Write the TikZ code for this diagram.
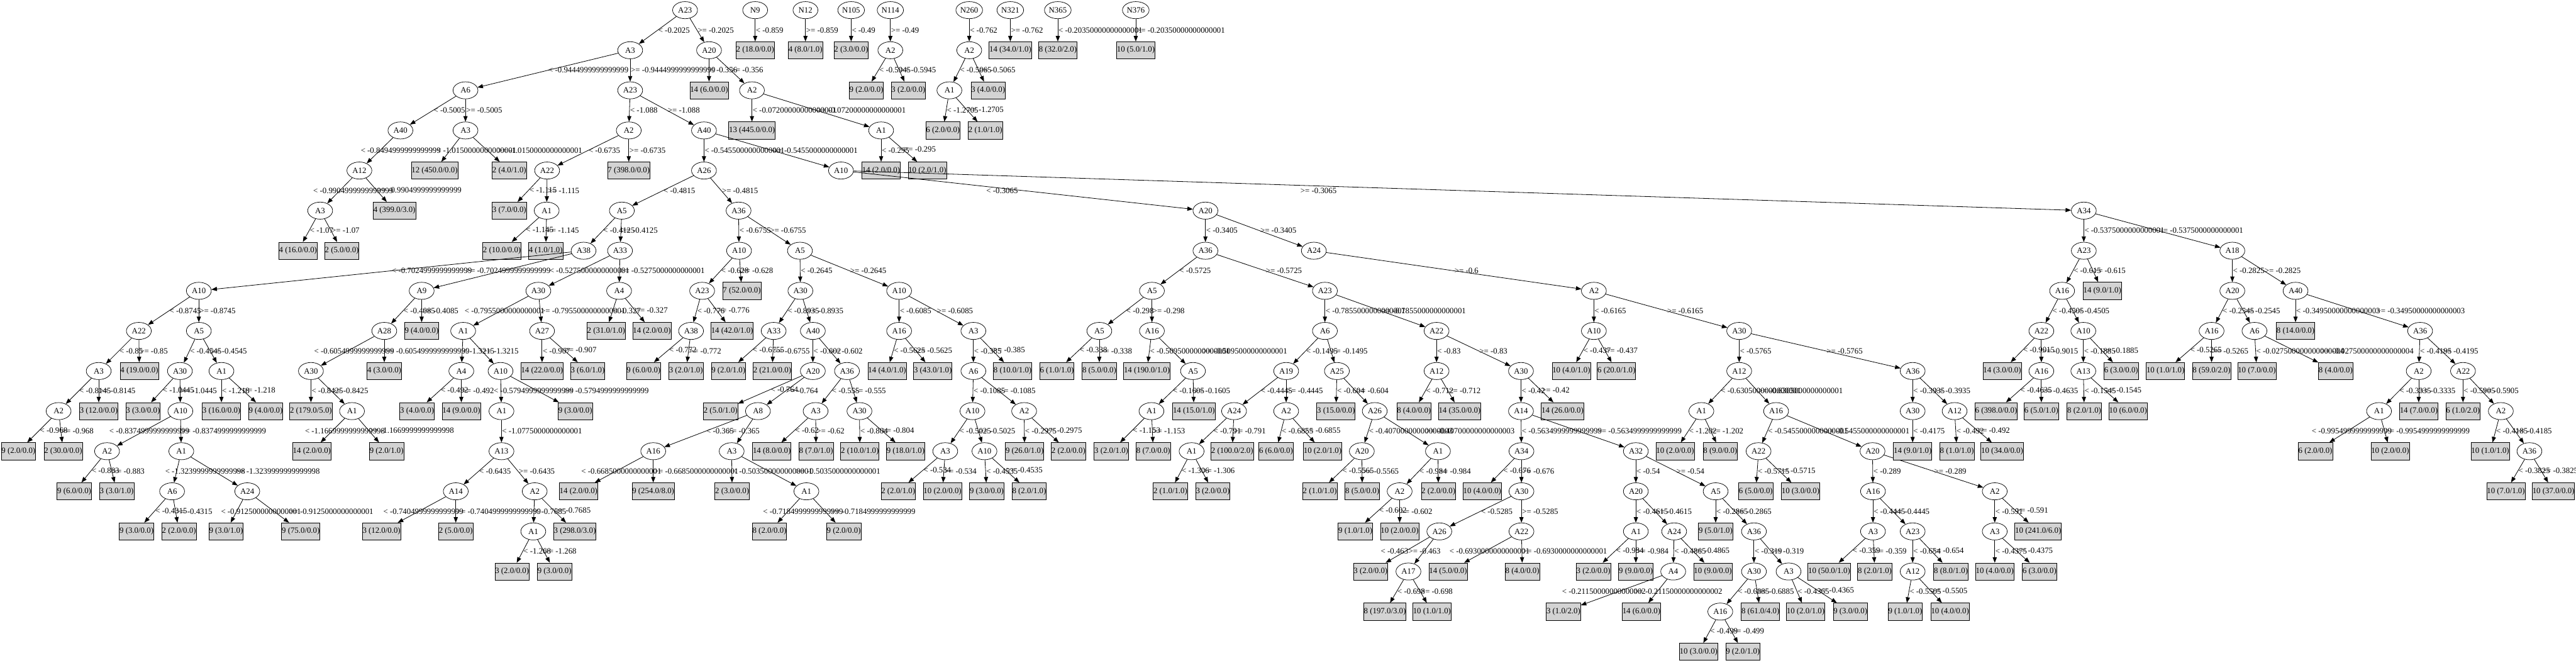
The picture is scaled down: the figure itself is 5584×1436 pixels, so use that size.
\documentclass[tikz,border=0pt]{standalone}
\usepackage{fontspec}
\setmainfont{Liberation Serif}
\usetikzlibrary{shapes.geometric,arrows.meta}
\definecolor{leafgray}{HTML}{D3D3D3}
\newcommand\gvfont{\fontsize{17.5}{20}\selectfont}
\tikzset{
  inode/.style={ellipse,draw,line width=1pt,minimum width=54pt,minimum height=37pt,inner sep=1pt,font=\gvfont},
  leaf/.style={rectangle,draw,line width=1pt,fill=leafgray,minimum height=37pt,inner xsep=0.5pt,inner ysep=0pt,font=\gvfont},
  conn/.style={line width=1.1pt,-{Triangle[length=12pt,width=9pt]}},
  lbl/.style={anchor=west,inner sep=1pt,font=\gvfont}
}
\newcommand\tnI[4]{\node[inode] (#1) at (#2,{22+86.9*#3}) {#4};}
\newcommand\tnL[4]{\node[leaf] (#1) at (#2,{22+86.9*#3}) {#4};}
\newcommand\tnE[3]{\draw[conn] (#1) -- node[lbl]{#3} (#2);}
\newcommand\tnX[5]{\draw[conn] (#1) -- (#2); \node[lbl] at (#4,{22+86.9*(#5+0.5)}) {#3};}
\begin{document}
\begin{tikzpicture}[x=1pt,y=-1pt]
\useasboundingbox (0,0) rectangle (5584,1436);
% ---- small separate trees
\tnI{s1}{1637}{0}{N9}
\tnL{s1a}{1637}{1}{2 (18.0/0.0)}
\tnE{s1}{s1a}{< -0.859}
\tnI{s2}{1746}{0}{N12}
\tnL{s2a}{1746}{1}{4 (8.0/1.0)}
\tnE{s2}{s2a}{>= -0.859}
\tnI{s3}{1845}{0}{N105}
\tnL{s3a}{1845}{1}{2 (3.0/0.0)}
\tnE{s3}{s3a}{< -0.49}
\tnI{s4}{1930}{0}{N114}
\tnI{s4a}{1930}{1}{A2}
\tnE{s4}{s4a}{>= -0.49}
\tnL{s4b}{1878}{2}{9 (2.0/0.0)}
\tnE{s4a}{s4b}{< -0.5945}
\tnL{s4c}{1969}{2}{3 (2.0/0.0)}
\tnE{s4a}{s4c}{>= -0.5945}
\tnI{s5}{2101}{0}{N260}
\tnI{s5a}{2101}{1}{A2}
\tnE{s5}{s5a}{< -0.762}
\tnI{s5b}{2058}{2}{A1}
\tnE{s5a}{s5b}{< -0.5065}
\tnL{s5c}{2142}{2}{3 (4.0/0.0)}
\tnE{s5a}{s5c}{>= -0.5065}
\tnL{s5d}{2044}{3}{6 (2.0/0.0)}
\tnE{s5b}{s5d}{< -1.2705}
\tnL{s5e}{2136}{3}{2 (1.0/1.0)}
\tnE{s5b}{s5e}{>= -1.2705}
\tnI{s6}{2190}{0}{N321}
\tnL{s6a}{2190}{1}{14 (34.0/1.0)}
\tnE{s6}{s6a}{>= -0.762}
\tnI{s7}{2293}{0}{N365}
\tnL{s7a}{2293}{1}{8 (32.0/2.0)}
\tnE{s7}{s7a}{< -0.20350000000000001}
\tnI{s8}{2462}{0}{N376}
\tnL{s8a}{2462}{1}{10 (5.0/1.0)}
\tnE{s8}{s8a}{>= -0.20350000000000001}
% ---- main tree
\tnI{m0}{1485}{0}{A23}
\tnI{m1}{1366}{1}{A3}
\tnE{m0}{m1}{< -0.2025}
\tnI{m2}{1537}{1}{A20}
\tnE{m0}{m2}{>= -0.2025}
\tnL{m3}{1537}{2}{14 (6.0/0.0)}
\tnE{m2}{m3}{< -0.356}
\tnI{m4}{1630}{2}{A2}
\tnE{m2}{m4}{>= -0.356}
\tnL{m5}{1630}{3}{13 (445.0/0.0)}
\tnE{m4}{m5}{< -0.07200000000000001}
\tnI{m6}{1910}{3}{A1}
\tnE{m4}{m6}{>= -0.07200000000000001}
\tnL{m7}{1910}{4}{14 (2.0/0.0)}
\tnE{m6}{m7}{< -0.295}
\tnL{m8}{2010}{4}{10 (2.0/1.0)}
\tnE{m6}{m8}{>= -0.295}
\tnI{m9}{1009}{2}{A6}
\tnE{m1}{m9}{< -0.9444999999999999}
\tnI{m10}{1366}{2}{A23}
\tnE{m1}{m10}{>= -0.9444999999999999}
\tnI{m11}{868}{3}{A40}
\tnE{m9}{m11}{< -0.5005}
\tnI{m12}{1009}{3}{A3}
\tnE{m9}{m12}{>= -0.5005}
\tnI{m13}{779}{4}{A12}
\tnX{m11}{m13}{< -0.8494999999999999}{781}{3}
\tnL{m14}{942}{4}{12 (450.0/0.0)}
\tnX{m12}{m14}{< -1.0150000000000001}{945}{3}
\tnL{m15}{1104}{4}{2 (4.0/1.0)}
\tnX{m12}{m15}{>= -1.0150000000000001}{1078}{3}
\tnI{m16}{694}{5}{A3}
\tnX{m13}{m16}{< -0.9904999999999999}{678}{4}
\tnL{m17}{855}{5}{4 (399.0/3.0)}
\tnE{m13}{m17}{>= -0.9904999999999999}
\tnL{m18}{646}{6}{4 (16.0/0.0)}
\tnE{m16}{m18}{< -1.07}
\tnL{m19}{741}{6}{2 (5.0/0.0)}
\tnE{m16}{m19}{>= -1.07}
\tnI{m20}{1363}{3}{A2}
\tnE{m10}{m20}{< -1.088}
\tnI{m21}{1526}{3}{A40}
\tnE{m10}{m21}{>= -1.088}
\tnI{m22}{1186}{4}{A22}
\tnE{m20}{m22}{< -0.6735}
\tnL{m23}{1363}{4}{7 (398.0/0.0)}
\tnE{m20}{m23}{>= -0.6735}
\tnL{m24}{1104}{5}{3 (7.0/0.0)}
\tnE{m22}{m24}{< -1.115}
\tnI{m25}{1185}{5}{A1}
\tnE{m22}{m25}{>= -1.115}
\tnL{m26}{1088}{6}{2 (10.0/0.0)}
\tnE{m25}{m26}{< -1.145}
\tnL{m27}{1183}{6}{4 (1.0/1.0)}
\tnE{m25}{m27}{>= -1.145}
\tnI{m28}{1526}{4}{A26}
\tnE{m21}{m28}{< -0.5455000000000001}
\tnI{m29}{1823}{4}{A10}
\tnE{m21}{m29}{>= -0.5455000000000001}
\tnI{m30}{1348}{5}{A5}
\tnE{m28}{m30}{< -0.4815}
\tnI{m31}{1601}{5}{A36}
\tnE{m28}{m31}{>= -0.4815}
\tnI{m32}{1265}{6}{A38}
\tnE{m30}{m32}{< -0.4125}
\tnI{m33}{1344}{6}{A33}
\tnE{m30}{m33}{>= -0.4125}
\tnI{m34}{431}{7}{A10}
\tnE{m32}{m34}{< -0.7024999999999999}
\tnI{m35}{914}{7}{A9}
\tnX{m32}{m35}{>= -0.7024999999999999}{1009}{6}
\tnI{m36}{1167}{7}{A30}
\tnX{m33}{m36}{< -0.5275000000000001}{1190}{6}
\tnI{m37}{1342}{7}{A4}
\tnE{m33}{m37}{>= -0.5275000000000001}
\tnL{m38}{1314}{8}{2 (31.0/1.0)}
\tnE{m37}{m38}{< -0.327}
\tnL{m39}{1413}{8}{14 (2.0/0.0)}
\tnE{m37}{m39}{>= -0.327}
\tnI{m40}{1004}{8}{A1}
\tnX{m36}{m40}{< -0.7955000000000001}{1006}{7}
\tnI{m41}{1175}{8}{A27}
\tnE{m36}{m41}{>= -0.7955000000000001}
\tnI{m42}{1000}{9}{A4}
\tnE{m40}{m42}{< -1.3215}
\tnI{m43}{1085}{9}{A10}
\tnE{m40}{m43}{>= -1.3215}
\tnL{m44}{904}{10}{3 (4.0/0.0)}
\tnE{m42}{m44}{< -0.492}
\tnL{m45}{1000}{10}{14 (9.0/0.0)}
\tnE{m42}{m45}{>= -0.492}
\tnI{m46}{1087}{10}{A1}
\tnX{m43}{m46}{< -0.5794999999999999}{1069}{9}
\tnL{m47}{1247}{10}{9 (3.0/0.0)}
\tnX{m43}{m47}{>= -0.5794999999999999}{1222}{9}
\tnI{m48}{1087}{11}{A13}
\tnE{m46}{m48}{< -1.0775000000000001}
\tnI{m49}{988}{12}{A14}
\tnE{m48}{m49}{< -0.6435}
\tnI{m50}{1159}{12}{A2}
\tnE{m48}{m50}{>= -0.6435}
\tnL{m51}{827}{13}{3 (12.0/0.0)}
\tnX{m49}{m51}{< -0.7404999999999999}{830}{12}
\tnL{m52}{988}{13}{2 (5.0/0.0)}
\tnE{m49}{m52}{>= -0.7404999999999999}
\tnI{m53}{1156}{13}{A1}
\tnE{m50}{m53}{< -0.7685}
\tnL{m54}{1246}{13}{3 (298.0/3.0)}
\tnE{m50}{m54}{>= -0.7685}
\tnL{m55}{1110}{14}{3 (2.0/0.0)}
\tnE{m53}{m55}{< -1.268}
\tnL{m56}{1202}{14}{9 (3.0/0.0)}
\tnE{m53}{m56}{>= -1.268}
\tnL{m57}{1175}{9}{14 (22.0/0.0)}
\tnE{m41}{m57}{< -0.907}
\tnL{m58}{1274}{9}{3 (6.0/1.0)}
\tnE{m41}{m58}{>= -0.907}
\tnI{m59}{301}{8}{A22}
\tnE{m34}{m59}{< -0.8745}
\tnI{m60}{431}{8}{A5}
\tnE{m34}{m60}{>= -0.8745}
\tnI{m61}{214}{9}{A3}
\tnE{m59}{m61}{< -0.85}
\tnL{m62}{302}{9}{4 (19.0/0.0)}
\tnE{m59}{m62}{>= -0.85}
\tnI{m63}{127}{10}{A2}
\tnE{m61}{m63}{< -0.8145}
\tnL{m64}{214}{10}{3 (12.0/0.0)}
\tnE{m61}{m64}{>= -0.8145}
\tnL{m65}{40}{11}{9 (2.0/0.0)}
\tnE{m63}{m65}{< -0.968}
\tnL{m66}{137}{11}{2 (30.0/0.0)}
\tnE{m63}{m66}{>= -0.968}
\tnI{m67}{390}{9}{A30}
\tnE{m60}{m67}{< -0.4545}
\tnI{m68}{480}{9}{A1}
\tnE{m60}{m68}{>= -0.4545}
\tnL{m69}{310}{10}{3 (3.0/0.0)}
\tnE{m67}{m69}{< -1.0445}
\tnI{m70}{391}{10}{A10}
\tnE{m67}{m70}{>= -1.0445}
\tnI{m71}{232}{11}{A2}
\tnX{m70}{m71}{< -0.8374999999999999}{236}{10}
\tnI{m72}{393}{11}{A1}
\tnE{m70}{m72}{>= -0.8374999999999999}
\tnL{m73}{161}{12}{9 (6.0/0.0)}
\tnE{m71}{m73}{< -0.883}
\tnL{m74}{253}{12}{3 (3.0/1.0)}
\tnE{m71}{m74}{>= -0.883}
\tnI{m75}{373}{12}{A6}
\tnX{m72}{m75}{< -1.3239999999999998}{357}{11}
\tnI{m76}{536}{12}{A24}
\tnX{m72}{m76}{>= -1.3239999999999998}{509}{11}
\tnL{m77}{296}{13}{9 (3.0/0.0)}
\tnE{m75}{m77}{< -0.4315}
\tnL{m78}{388}{13}{2 (2.0/0.0)}
\tnE{m75}{m78}{>= -0.4315}
\tnL{m79}{490}{13}{9 (3.0/1.0)}
\tnX{m76}{m79}{< -0.9125000000000001}{478}{12}
\tnL{m80}{652}{13}{9 (75.0/0.0)}
\tnX{m76}{m80}{>= -0.9125000000000001}{625}{12}
\tnL{m81}{480}{10}{3 (16.0/0.0)}
\tnE{m68}{m81}{< -1.218}
\tnL{m82}{576}{10}{9 (4.0/0.0)}
\tnE{m68}{m82}{>= -1.218}
\tnI{m83}{833}{8}{A28}
\tnE{m35}{m83}{< -0.4085}
\tnL{m84}{914}{8}{9 (4.0/0.0)}
\tnE{m35}{m84}{>= -0.4085}
\tnI{m85}{674}{9}{A30}
\tnX{m83}{m85}{< -0.6054999999999999}{680}{8}
\tnL{m86}{833}{9}{4 (3.0/0.0)}
\tnE{m83}{m86}{>= -0.6054999999999999}
\tnL{m87}{674}{10}{2 (179.0/5.0)}
\tnE{m85}{m87}{< -0.8425}
\tnI{m88}{763}{10}{A1}
\tnE{m85}{m88}{>= -0.8425}
\tnL{m89}{676}{11}{14 (2.0/0.0)}
\tnX{m88}{m89}{< -1.1669999999999998}{660}{10}
\tnL{m90}{838}{11}{9 (2.0/1.0)}
\tnE{m88}{m90}{>= -1.1669999999999998}
% A36 subtree
\tnI{m91}{1602}{6}{A10}
\tnE{m31}{m91}{< -0.6755}
\tnI{m92}{1734}{6}{A5}
\tnE{m31}{m92}{>= -0.6755}
\tnI{m93}{1522}{7}{A23}
\tnE{m91}{m93}{< -0.628}
\tnL{m94}{1608}{7}{7 (52.0/0.0)}
\tnE{m91}{m94}{>= -0.628}
\tnI{m95}{1498}{8}{A38}
\tnE{m93}{m95}{< -0.776}
\tnL{m96}{1587}{8}{14 (42.0/1.0)}
\tnE{m93}{m96}{>= -0.776}
\tnL{m97}{1395}{9}{9 (6.0/0.0)}
\tnE{m95}{m97}{< -0.772}
\tnL{m98}{1487}{9}{3 (2.0/1.0)}
\tnE{m95}{m98}{>= -0.772}
\tnI{m99}{1735}{7}{A30}
\tnE{m92}{m99}{< -0.2645}
\tnI{m100}{1949}{7}{A10}
\tnE{m92}{m100}{>= -0.2645}
\tnI{m101}{1677}{8}{A33}
\tnE{m99}{m101}{< -0.8935}
\tnI{m102}{1762}{8}{A40}
\tnE{m99}{m102}{>= -0.8935}
\tnL{m103}{1579}{9}{9 (2.0/1.0)}
\tnE{m101}{m103}{< -0.6755}
\tnL{m104}{1674}{9}{2 (21.0/0.0)}
\tnE{m101}{m104}{>= -0.6755}
\tnI{m105}{1762}{9}{A20}
\tnE{m102}{m105}{< -0.602}
\tnI{m106}{1836}{9}{A36}
\tnE{m102}{m106}{>= -0.602}
\tnL{m107}{1562}{10}{2 (5.0/1.0)}
\tnE{m105}{m107}{< -0.764}
\tnI{m108}{1643}{10}{A8}
\tnE{m105}{m108}{>= -0.764}
\tnI{m109}{1416}{11}{A16}
\tnE{m108}{m109}{< -0.365}
\tnI{m110}{1586}{11}{A3}
\tnX{m108}{m110}{>= -0.365}{1576}{10}
\tnL{m111}{1254}{12}{14 (2.0/0.0)}
\tnX{m109}{m111}{< -0.6685000000000001}{1259}{11}
\tnL{m112}{1416}{12}{9 (254.0/8.0)}
\tnE{m109}{m112}{>= -0.6685000000000001}
\tnL{m113}{1587}{12}{2 (3.0/0.0)}
\tnE{m110}{m113}{< -0.5035000000000001}
\tnI{m114}{1748}{12}{A1}
\tnX{m110}{m114}{>= -0.5035000000000001}{1724}{11}
\tnL{m115}{1668}{13}{8 (2.0/0.0)}
\tnX{m114}{m115}{< -0.7184999999999999}{1653}{12}
\tnL{m116}{1829}{13}{9 (2.0/0.0)}
\tnX{m114}{m116}{>= -0.7184999999999999}{1800}{12}
\tnI{m117}{1768}{10}{A3}
\tnE{m106}{m117}{< -0.555}
\tnI{m118}{1863}{10}{A30}
\tnE{m106}{m118}{>= -0.555}
\tnL{m119}{1673}{11}{14 (8.0/0.0)}
\tnE{m117}{m119}{< -0.62}
\tnL{m120}{1769}{11}{8 (7.0/1.0)}
\tnE{m117}{m120}{>= -0.62}
\tnL{m121}{1864}{11}{2 (10.0/1.0)}
\tnE{m118}{m121}{< -0.804}
\tnL{m122}{1963}{11}{9 (18.0/1.0)}
\tnE{m118}{m122}{>= -0.804}
\tnI{m123}{1949}{8}{A16}
\tnE{m100}{m123}{< -0.6085}
\tnI{m124}{2110}{8}{A3}
\tnE{m100}{m124}{>= -0.6085}
\tnL{m125}{1923}{9}{14 (4.0/1.0)}
\tnE{m123}{m125}{< -0.5625}
\tnL{m126}{2022}{9}{3 (43.0/1.0)}
\tnE{m123}{m126}{>= -0.5625}
\tnI{m127}{2110}{9}{A6}
\tnE{m124}{m127}{< -0.385}
\tnL{m128}{2195}{9}{8 (10.0/1.0)}
\tnE{m124}{m128}{>= -0.385}
\tnI{m129}{2108}{10}{A10}
\tnE{m127}{m129}{< -0.1085}
\tnI{m130}{2220}{10}{A2}
\tnE{m127}{m130}{>= -0.1085}
\tnI{m131}{2049}{11}{A3}
\tnE{m129}{m131}{< -0.5025}
\tnI{m132}{2134}{11}{A10}
\tnE{m129}{m132}{>= -0.5025}
\tnL{m133}{1947}{12}{2 (2.0/1.0)}
\tnE{m131}{m133}{< -0.534}
\tnL{m134}{2043}{12}{10 (2.0/0.0)}
\tnE{m131}{m134}{>= -0.534}
\tnL{m135}{2139}{12}{9 (3.0/0.0)}
\tnE{m132}{m135}{< -0.4535}
\tnL{m136}{2231}{12}{8 (2.0/1.0)}
\tnE{m132}{m136}{>= -0.4535}
\tnL{m137}{2221}{11}{9 (26.0/1.0)}
\tnE{m130}{m137}{< -0.2975}
\tnL{m138}{2316}{11}{2 (2.0/0.0)}
\tnE{m130}{m138}{>= -0.2975}
% A10 (right) subtree
\tnI{m139}{2613}{5}{A20}
\tnX{m29}{m139}{< -0.3065}{2137}{4}
\tnI{m140}{4517}{5}{A34}
\tnX{m29}{m140}{>= -0.3065}{2818}{4}
\tnI{m141}{2613}{6}{A36}
\tnE{m139}{m141}{< -0.3405}
\tnI{m142}{2848}{6}{A24}
\tnE{m139}{m142}{>= -0.3405}
\tnI{m143}{2497}{7}{A5}
\tnE{m141}{m143}{< -0.5725}
\tnI{m144}{2872}{7}{A23}
\tnE{m141}{m144}{>= -0.5725}
\tnI{m145}{2383}{8}{A5}
\tnE{m143}{m145}{< -0.298}
\tnI{m146}{2497}{8}{A16}
\tnE{m143}{m146}{>= -0.298}
\tnL{m147}{2291}{9}{6 (1.0/1.0)}
\tnE{m145}{m147}{< -0.338}
\tnL{m148}{2383}{9}{8 (5.0/0.0)}
\tnE{m145}{m148}{>= -0.338}
\tnL{m149}{2486}{9}{14 (190.0/1.0)}
\tnE{m146}{m149}{< -0.5095000000000001}
\tnI{m150}{2586}{9}{A5}
\tnX{m146}{m150}{>= -0.5095000000000001}{2606}{8}
\tnI{m151}{2496}{10}{A1}
\tnE{m150}{m151}{< -0.1605}
\tnL{m152}{2588}{10}{14 (15.0/1.0)}
\tnE{m150}{m152}{>= -0.1605}
\tnL{m153}{2409}{11}{3 (2.0/1.0)}
\tnE{m151}{m153}{< -1.153}
\tnL{m154}{2500}{11}{8 (7.0/0.0)}
\tnE{m151}{m154}{>= -1.153}
\tnI{m155}{2872}{8}{A6}
\tnE{m144}{m155}{< -0.7855000000000001}
\tnI{m156}{3114}{8}{A22}
\tnE{m144}{m156}{>= -0.7855000000000001}
\tnI{m157}{2788}{9}{A19}
\tnE{m155}{m157}{< -0.1495}
\tnI{m158}{2898}{9}{A25}
\tnE{m155}{m158}{>= -0.1495}
\tnI{m159}{2675}{10}{A24}
\tnE{m157}{m159}{< -0.4445}
\tnI{m160}{2788}{10}{A2}
\tnE{m157}{m160}{>= -0.4445}
\tnI{m161}{2583}{11}{A1}
\tnE{m159}{m161}{< -0.791}
\tnL{m162}{2671}{11}{2 (100.0/2.0)}
\tnE{m159}{m162}{>= -0.791}
\tnL{m163}{2537}{12}{2 (1.0/1.0)}
\tnE{m161}{m163}{< -1.306}
\tnL{m164}{2629}{12}{3 (2.0/0.0)}
\tnE{m161}{m164}{>= -1.306}
\tnL{m165}{2766}{11}{6 (6.0/0.0)}
\tnE{m160}{m165}{< -0.6855}
\tnL{m166}{2867}{11}{10 (2.0/1.0)}
\tnE{m160}{m166}{>= -0.6855}
\tnL{m167}{2896}{10}{3 (15.0/0.0)}
\tnE{m158}{m167}{< -0.604}
\tnI{m168}{2980}{10}{A26}
\tnE{m158}{m168}{>= -0.604}
\tnI{m169}{2952}{11}{A20}
\tnE{m168}{m169}{< -0.40700000000000003}
\tnI{m170}{3117}{11}{A1}
\tnX{m168}{m170}{>= -0.40700000000000003}{3090}{10}
\tnL{m171}{2861}{12}{2 (1.0/1.0)}
\tnE{m169}{m171}{< -0.5565}
\tnL{m172}{2953}{12}{8 (5.0/0.0)}
\tnE{m169}{m172}{>= -0.5565}
\tnI{m173}{3034}{12}{A2}
\tnE{m170}{m173}{< -0.984}
\tnL{m174}{3118}{12}{2 (2.0/0.0)}
\tnE{m170}{m174}{>= -0.984}
\tnL{m175}{2938}{13}{9 (1.0/1.0)}
\tnE{m173}{m175}{< -0.602}
\tnL{m176}{3034}{13}{10 (2.0/0.0)}
\tnE{m173}{m176}{>= -0.602}
\tnI{m177}{3114}{9}{A12}
\tnE{m156}{m177}{< -0.83}
\tnI{m178}{3297}{9}{A30}
\tnE{m156}{m178}{>= -0.83}
\tnL{m179}{3065}{10}{8 (4.0/0.0)}
\tnE{m177}{m179}{< -0.712}
\tnL{m180}{3164}{10}{14 (35.0/0.0)}
\tnE{m177}{m180}{>= -0.712}
\tnI{m181}{3297}{10}{A14}
\tnE{m178}{m181}{< -0.42}
\tnL{m182}{3387}{10}{14 (26.0/0.0)}
\tnE{m178}{m182}{>= -0.42}
\tnI{m183}{3298}{11}{A34}
\tnE{m181}{m183}{< -0.5634999999999999}
\tnI{m184}{3546}{11}{A32}
\tnX{m181}{m184}{>= -0.5634999999999999}{3461}{10}
\tnL{m185}{3213}{12}{10 (4.0/0.0)}
\tnE{m183}{m185}{< -0.676}
\tnI{m186}{3298}{12}{A30}
\tnE{m183}{m186}{>= -0.676}
\tnI{m187}{3120}{13}{A26}
\tnE{m186}{m187}{< -0.5285}
\tnI{m188}{3298}{13}{A22}
\tnE{m186}{m188}{>= -0.5285}
\tnL{m189}{2971}{14}{3 (2.0/0.0)}
\tnX{m187}{m189}{< -0.463}{2992}{13}
\tnI{m190}{3053}{14}{A17}
\tnX{m187}{m190}{>= -0.463}{3052}{13}
\tnL{m191}{3002}{15}{8 (197.0/3.0)}
\tnE{m190}{m191}{< -0.698}
\tnL{m192}{3104}{15}{10 (1.0/1.0)}
\tnE{m190}{m192}{>= -0.698}
\tnL{m193}{3139}{14}{14 (5.0/0.0)}
\tnX{m188}{m193}{< -0.6930000000000001}{3141}{13}
\tnL{m194}{3300}{14}{8 (4.0/0.0)}
\tnE{m188}{m194}{>= -0.6930000000000001}
\tnI{m195}{3546}{12}{A20}
\tnE{m184}{m195}{< -0.54}
\tnI{m196}{3719}{12}{A5}
\tnE{m184}{m196}{>= -0.54}
\tnI{m197}{3546}{13}{A1}
\tnE{m195}{m197}{< -0.4615}
\tnI{m198}{3629}{13}{A24}
\tnE{m195}{m198}{>= -0.4615}
\tnL{m199}{3454}{14}{3 (2.0/0.0)}
\tnE{m197}{m199}{< -0.984}
\tnL{m200}{3546}{14}{9 (9.0/0.0)}
\tnE{m197}{m200}{>= -0.984}
\tnI{m201}{3627}{14}{A4}
\tnE{m198}{m201}{< -0.4865}
\tnL{m202}{3713}{14}{10 (9.0/0.0)}
\tnE{m198}{m202}{>= -0.4865}
\tnL{m203}{3389}{15}{3 (1.0/2.0)}
\tnX{m201}{m203}{< -0.21150000000000002}{3385}{14}
\tnL{m204}{3558}{15}{14 (6.0/0.0)}
\tnX{m201}{m204}{>= -0.21150000000000002}{3541}{14}
\tnL{m205}{3719}{13}{9 (5.0/1.0)}
\tnE{m196}{m205}{< -0.2865}
\tnI{m206}{3802}{13}{A36}
\tnE{m196}{m206}{>= -0.2865}
\tnI{m207}{3802}{14}{A30}
\tnE{m206}{m207}{< -0.319}
\tnI{m208}{3877}{14}{A3}
\tnE{m206}{m208}{>= -0.319}
\tnI{m209}{3729}{15}{A16}
\tnE{m207}{m209}{< -0.6885}
\tnL{m210}{3816}{15}{8 (61.0/4.0)}
\tnE{m207}{m210}{>= -0.6885}
\tnL{m211}{3682}{16}{10 (3.0/0.0)}
\tnE{m209}{m211}{< -0.499}
\tnL{m212}{3778}{16}{9 (2.0/1.0)}
\tnE{m209}{m212}{>= -0.499}
\tnL{m213}{3914}{15}{10 (2.0/1.0)}
\tnE{m208}{m213}{< -0.4365}
\tnL{m214}{4011}{15}{9 (3.0/0.0)}
\tnE{m208}{m214}{>= -0.4365}
\tnI{m215}{3455}{7}{A2}
\tnE{m142}{m215}{>= -0.6}
\tnI{m216}{3455}{8}{A10}
\tnE{m215}{m216}{< -0.6165}
\tnI{m217}{3770}{8}{A30}
\tnE{m215}{m217}{>= -0.6165}
\tnL{m218}{3406}{9}{10 (4.0/1.0)}
\tnE{m216}{m218}{< -0.437}
\tnL{m219}{3504}{9}{6 (20.0/1.0)}
\tnE{m216}{m219}{>= -0.437}
\tnI{m220}{3770}{9}{A12}
\tnE{m217}{m220}{< -0.5765}
\tnI{m221}{4146}{9}{A36}
\tnE{m217}{m221}{>= -0.5765}
\tnI{m222}{3688}{10}{A1}
\tnE{m220}{m222}{< -0.6305000000000001}
\tnI{m223}{3850}{10}{A16}
\tnE{m220}{m223}{>= -0.6305000000000001}
\tnL{m224}{3631}{11}{10 (2.0/0.0)}
\tnE{m222}{m224}{< -1.202}
\tnL{m225}{3729}{11}{8 (9.0/0.0)}
\tnE{m222}{m225}{>= -1.202}
\tnI{m226}{3812}{11}{A22}
\tnE{m223}{m226}{< -0.5455000000000001}
\tnI{m227}{4059}{11}{A20}
\tnE{m223}{m227}{>= -0.5455000000000001}
\tnL{m228}{3806}{12}{6 (5.0/0.0)}
\tnE{m226}{m228}{< -0.5715}
\tnL{m229}{3903}{12}{10 (3.0/0.0)}
\tnE{m226}{m229}{>= -0.5715}
\tnI{m230}{4060}{12}{A16}
\tnE{m227}{m230}{< -0.289}
\tnI{m231}{4324}{12}{A2}
\tnE{m227}{m231}{>= -0.289}
\tnI{m232}{4060}{13}{A3}
\tnE{m230}{m232}{< -0.4445}
\tnI{m233}{4146}{13}{A23}
\tnE{m230}{m233}{>= -0.4445}
\tnL{m234}{3965}{14}{10 (50.0/1.0)}
\tnE{m232}{m234}{< -0.359}
\tnL{m235}{4064}{14}{8 (2.0/1.0)}
\tnE{m232}{m235}{>= -0.359}
\tnI{m236}{4146}{14}{A12}
\tnE{m233}{m236}{< -0.654}
\tnL{m237}{4229}{14}{8 (8.0/1.0)}
\tnE{m233}{m237}{>= -0.654}
\tnL{m238}{4130}{15}{9 (1.0/1.0)}
\tnE{m236}{m238}{< -0.5505}
\tnL{m239}{4227}{15}{10 (4.0/0.0)}
\tnE{m236}{m239}{>= -0.5505}
\tnI{m240}{4324}{13}{A3}
\tnE{m231}{m240}{< -0.591}
\tnL{m241}{4418}{13}{10 (241.0/6.0)}
\tnE{m231}{m241}{>= -0.591}
\tnL{m242}{4324}{14}{10 (4.0/0.0)}
\tnE{m240}{m242}{< -0.4375}
\tnL{m243}{4421}{14}{6 (3.0/0.0)}
\tnE{m240}{m243}{>= -0.4375}
\tnI{m244}{4146}{10}{A30}
\tnE{m221}{m244}{< -0.3935}
\tnI{m245}{4237}{10}{A12}
\tnE{m221}{m245}{>= -0.3935}
\tnL{m246}{4146}{11}{14 (9.0/1.0)}
\tnE{m244}{m246}{< -0.4175}
\tnL{m247}{4242}{11}{8 (1.0/1.0)}
\tnE{m245}{m247}{< -0.492}
\tnL{m248}{4340}{11}{10 (34.0/0.0)}
\tnE{m245}{m248}{>= -0.492}
% A34 subtree
\tnI{m249}{4517}{6}{A23}
\tnE{m140}{m249}{< -0.5375000000000001}
\tnI{m250}{4839}{6}{A18}
\tnE{m140}{m250}{>= -0.5375000000000001}
\tnI{m251}{4470}{7}{A16}
\tnE{m249}{m251}{< -0.615}
\tnL{m252}{4557}{7}{14 (9.0/1.0)}
\tnE{m249}{m252}{>= -0.615}
\tnI{m253}{4425}{8}{A22}
\tnE{m251}{m253}{< -0.4505}
\tnI{m254}{4516}{8}{A10}
\tnE{m251}{m254}{>= -0.4505}
\tnL{m255}{4340}{9}{14 (3.0/0.0)}
\tnE{m253}{m255}{< -0.9015}
\tnI{m256}{4425}{9}{A16}
\tnE{m253}{m256}{>= -0.9015}
\tnL{m257}{4327}{10}{6 (398.0/0.0)}
\tnE{m256}{m257}{< -0.4635}
\tnL{m258}{4425}{10}{6 (5.0/1.0)}
\tnE{m256}{m258}{>= -0.4635}
\tnI{m259}{4516}{9}{A13}
\tnE{m254}{m259}{< -0.1885}
\tnL{m260}{4598}{9}{6 (3.0/0.0)}
\tnE{m254}{m260}{>= -0.1885}
\tnL{m261}{4518}{10}{8 (2.0/1.0)}
\tnE{m259}{m261}{< -0.1545}
\tnL{m262}{4613}{10}{10 (6.0/0.0)}
\tnE{m259}{m262}{>= -0.1545}
\tnI{m263}{4839}{7}{A20}
\tnE{m250}{m263}{< -0.2825}
\tnI{m264}{4976}{7}{A40}
\tnE{m250}{m264}{>= -0.2825}
\tnI{m265}{4794}{8}{A16}
\tnE{m263}{m265}{< -0.2545}
\tnI{m266}{4887}{8}{A6}
\tnE{m263}{m266}{>= -0.2545}
\tnL{m267}{4694}{9}{10 (1.0/1.0)}
\tnE{m265}{m267}{< -0.5265}
\tnL{m268}{4794}{9}{8 (59.0/2.0)}
\tnE{m265}{m268}{>= -0.5265}
\tnL{m269}{4892}{9}{10 (7.0/0.0)}
\tnE{m266}{m269}{< -0.027500000000000004}
\tnL{m270}{5063}{9}{8 (4.0/0.0)}
\tnX{m266}{m270}{>= -0.027500000000000004}{5030}{8}
\tnL{m271}{4976}{8}{8 (14.0/0.0)}
\tnE{m264}{m271}{< -0.34950000000000003}
\tnI{m272}{5246}{8}{A36}
\tnX{m264}{m272}{>= -0.34950000000000003}{5150}{7}
\tnI{m273}{5243}{9}{A2}
\tnE{m272}{m273}{< -0.4195}
\tnI{m274}{5339}{9}{A22}
\tnE{m272}{m274}{>= -0.4195}
\tnI{m275}{5157}{10}{A1}
\tnE{m273}{m275}{< -0.3335}
\tnL{m276}{5243}{10}{14 (7.0/0.0)}
\tnE{m273}{m276}{>= -0.3335}
\tnL{m277}{5019}{11}{6 (2.0/0.0)}
\tnX{m275}{m277}{< -0.9954999999999999}{5010}{10}
\tnL{m278}{5181}{11}{10 (2.0/0.0)}
\tnE{m275}{m278}{>= -0.9954999999999999}
\tnL{m279}{5339}{10}{6 (1.0/2.0)}
\tnE{m274}{m279}{< -0.5905}
\tnI{m280}{5421}{10}{A2}
\tnE{m274}{m280}{>= -0.5905}
\tnL{m281}{5398}{11}{10 (1.0/1.0)}
\tnE{m280}{m281}{< -0.4185}
\tnI{m282}{5483}{11}{A36}
\tnE{m280}{m282}{>= -0.4185}
\tnL{m283}{5432}{12}{10 (7.0/1.0)}
\tnE{m282}{m283}{< -0.3825}
\tnL{m284}{5535}{12}{10 (37.0/0.0)}
\tnE{m282}{m284}{>= -0.3825}
\end{tikzpicture}
\end{document}
